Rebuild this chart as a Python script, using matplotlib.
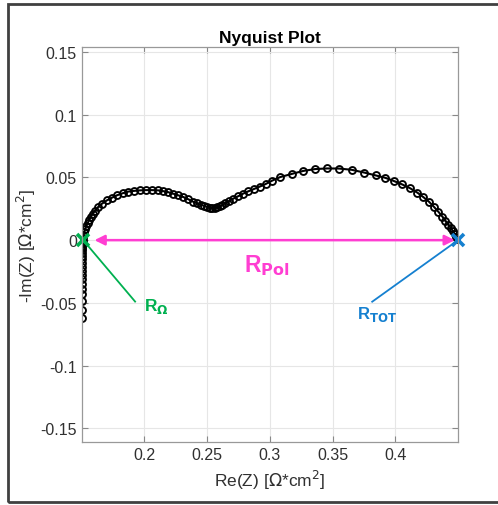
import numpy as np
import matplotlib.pyplot as plt
from matplotlib.patches import Rectangle

plt.rcParams['font.family'] = ['Liberation Sans', 'DejaVu Sans']

# Impedance data [Ohm*cm^2]: inductive tail, then the two arcs
re_z = [0.1500, 0.1500, 0.1500, 0.1500, 0.1500, 0.1501, 0.1501, 0.1501,
        0.1502, 0.1502, 0.1502, 0.1503, 0.1503, 0.1503, 0.1504, 0.1504,
        0.1504, 0.1505, 0.1505, 0.1506, 0.1507,
        0.1510, 0.1514, 0.1522, 0.1530, 0.1538, 0.1550, 0.1562, 0.1574,
        0.1590, 0.1606, 0.1630, 0.1662, 0.1702, 0.1742, 0.1782, 0.1830,
        0.1869, 0.1917, 0.1965, 0.2013, 0.2061, 0.2109, 0.2149, 0.2189,
        0.2229, 0.2269, 0.2308, 0.2348, 0.2388, 0.2420, 0.2452, 0.2476,
        0.2500, 0.2520, 0.2540, 0.2560, 0.2580, 0.2600, 0.2620, 0.2644,
        0.2672, 0.2708, 0.2747, 0.2787, 0.2827, 0.2871, 0.2919, 0.2967,
        0.3019, 0.3082, 0.3174, 0.3266, 0.3362, 0.3458, 0.3553, 0.3653,
        0.3753, 0.3845, 0.3921, 0.3988, 0.4056, 0.4120, 0.4176, 0.4224,
        0.4268, 0.4307, 0.4343, 0.4376, 0.4399, 0.4423, 0.4443, 0.4459,
        0.4475, 0.4487, 0.4496]
neg_im_z = [-0.0619, -0.0555, -0.0483, -0.0427, -0.0387, -0.0347, -0.0307,
            -0.0275, -0.0243, -0.0211, -0.0180, -0.0148, -0.0124, -0.0100,
            -0.0080, -0.0060, -0.0044, -0.0032, -0.0020, -0.0012, -0.0004,
            0.0020, 0.0044, 0.0068, 0.0092, 0.0116, 0.0140, 0.0164, 0.0188,
            0.0211, 0.0235, 0.0263, 0.0291, 0.0318, 0.0339, 0.0358, 0.0375,
            0.0387, 0.0393, 0.0397, 0.0399, 0.0399, 0.0397, 0.0391, 0.0383,
            0.0371, 0.0358, 0.0345, 0.0327, 0.0307, 0.0293, 0.0281, 0.0273,
            0.0265, 0.0259, 0.0257, 0.0258, 0.0262, 0.0269, 0.0279, 0.0294,
            0.0310, 0.0331, 0.0350, 0.0371, 0.0389, 0.0407, 0.0427, 0.0448,
            0.0475, 0.0503, 0.0528, 0.0552, 0.0567, 0.0572, 0.0571, 0.0561,
            0.0539, 0.0516, 0.0497, 0.0472, 0.0444, 0.0413, 0.0379, 0.0343,
            0.0307, 0.0267, 0.0227, 0.0187, 0.0156, 0.0124, 0.0096, 0.0072,
            0.0048, 0.0028, 0.0010]

R_OHM = 0.1512
R_TOT = 0.4500

x_ticks = [0.2, 0.25, 0.3, 0.35, 0.4]
x_tick_labels = ['0.2', '0.25', '0.3', '0.35', '0.4']
y_ticks = [-0.15, -0.1, -0.05, 0, 0.05, 0.1, 0.15]
y_tick_labels = ['-0.15', '-0.1', '-0.05', '0', '0.05', '0.1', '0.15']

GREEN = '#00B050'
BLUE = '#1580D0'
MAGENTA = '#FF3ED2'

fig = plt.figure(figsize=(4.98, 5.06), dpi=100)
fig.patches.append(Rectangle((0.016, 0.006), 1.2, 0.984, transform=fig.transFigure,
                             fill=False, edgecolor='#404040', linewidth=2))
ax = fig.add_axes([0.164, 0.1245, 0.7557, 0.7805])

ax.plot(re_z, neg_im_z, '-o', color='black', markersize=5, markerfacecolor='none',
        markeredgewidth=1.35, linewidth=1.5)

# R_pol double arrow between the two intercepts
ax.annotate('', xy=(R_TOT - 0.0025, 0), xytext=(R_OHM + 0.009, 0),
            arrowprops=dict(arrowstyle='<|-|>', color=MAGENTA, lw=1.8,
                            mutation_scale=15, shrinkA=0, shrinkB=0))
ax.text(0.2975, -0.0195, r'R$_{\mathbf{Pol}}$', color=MAGENTA, fontsize=16.5,
        fontweight='bold', ha='center', va='center')

# intercept markers with pointer lines
ax.plot([R_OHM, 0.1926], [0, -0.049], color=GREEN, lw=1.3)
ax.plot(R_OHM, 0, 'x', color=GREEN, markersize=8, markeredgewidth=2.6, clip_on=False)
ax.text(0.2093, -0.0525, r'R$_{\mathbf{\Omega}}$', color=GREEN, fontsize=12.5,
        fontweight='bold', ha='center', va='center')

ax.plot([R_TOT, 0.3816], [0, -0.0491], color=BLUE, lw=1.3)
ax.plot(R_TOT, 0, 'x', color=BLUE, markersize=8, markeredgewidth=2.6, clip_on=False)
ax.text(0.3855, -0.0585, r'R$_{\mathbf{TOT}}$', color=BLUE, fontsize=12,
        fontweight='bold', ha='center', va='center')

ax.set_xlim(0.15, 0.45)
ax.set_ylim(-0.161, 0.154)
ax.set_xticks(x_ticks)
ax.set_xticklabels(x_tick_labels)
ax.set_yticks(y_ticks)
ax.set_yticklabels(y_tick_labels)
ax.grid(True, color='#e6e6e6', linewidth=0.8)
ax.set_axisbelow(True)
ax.tick_params(direction='in', length=4, top=True, right=True, labelsize=11.5,
               colors='#888888', labelcolor='#303030', width=0.8)
for sp in ax.spines.values():
    sp.set_color('#999999')
    sp.set_linewidth(0.9)

ax.set_title('Nyquist Plot', fontsize=12.5, fontweight='bold', pad=4)
ax.set_xlabel(r'Re(Z) [$\Omega$*cm$^2$]', fontsize=12.5, color='#303030', labelpad=4)
ax.set_ylabel(r'-Im(Z) [$\Omega$*cm$^2$]', fontsize=12.5, color='#303030', labelpad=2)

fig.savefig('out.png', dpi=100)
